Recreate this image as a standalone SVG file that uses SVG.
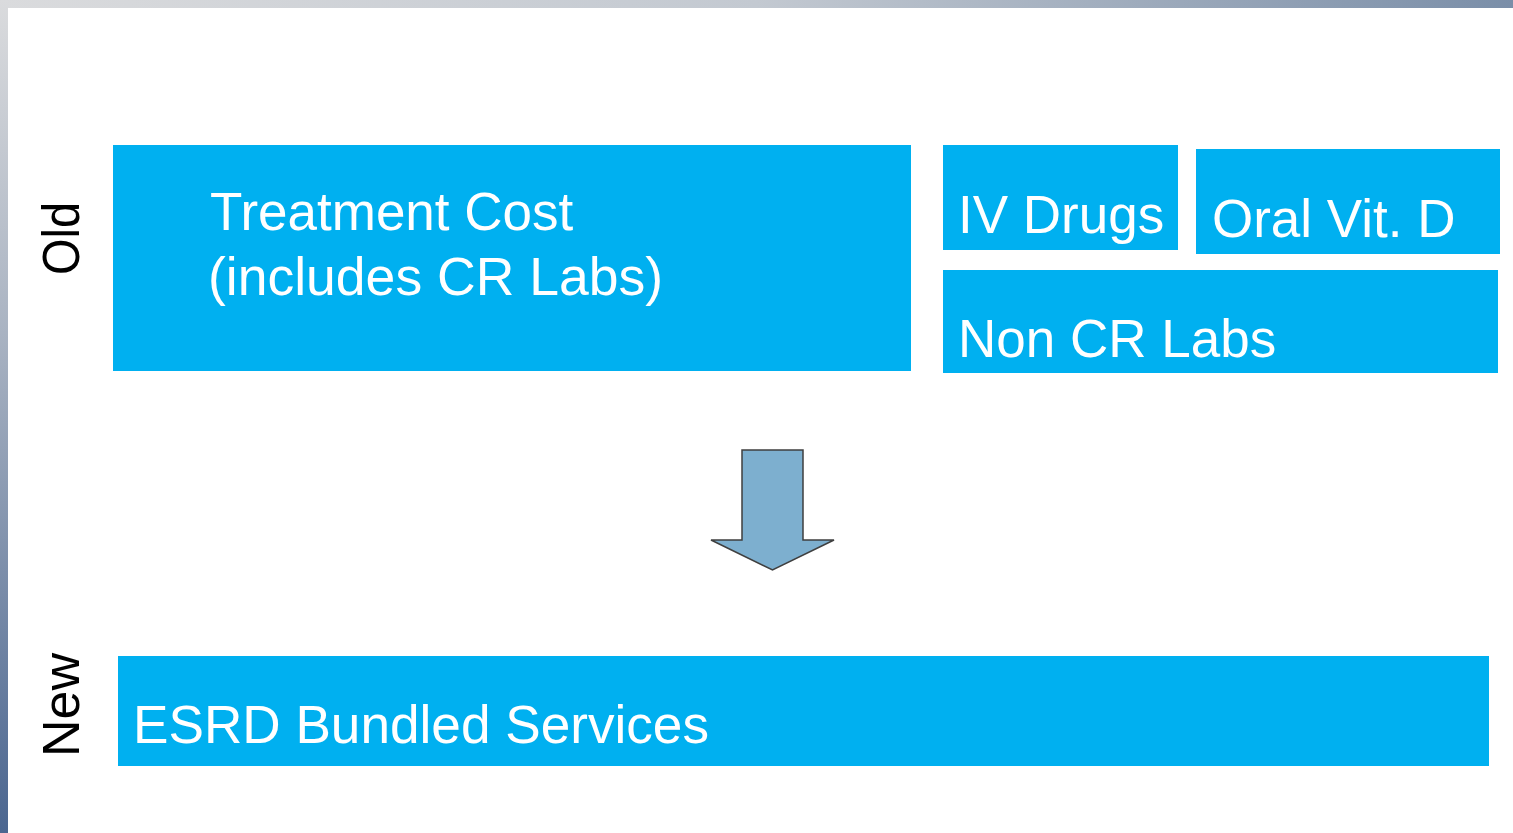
<svg xmlns="http://www.w3.org/2000/svg" width="1513" height="833" viewBox="0 0 1513 833">
<defs>
<linearGradient id="topg" x1="0" y1="0" x2="1" y2="0">
<stop offset="0" stop-color="#dadbdd"/>
<stop offset="0.5" stop-color="#c3c9d1"/>
<stop offset="1" stop-color="#7a8ea8"/>
</linearGradient>
<linearGradient id="leftg" x1="0" y1="0" x2="0" y2="1">
<stop offset="0" stop-color="#dadbdd"/>
<stop offset="0.4" stop-color="#a9b3c2"/>
<stop offset="1" stop-color="#4b6690"/>
</linearGradient>
<style>
.box{fill:#00b0f0;}
.lbl{font-family:"Liberation Sans",Arial,sans-serif;font-size:53px;fill:#ffffff;}
.side{font-family:"Liberation Sans",Arial,sans-serif;font-size:52px;fill:#000000;}
</style>
</defs>
<rect x="0" y="0" width="1513" height="833" fill="#ffffff"/>
<rect x="0" y="0" width="1513" height="8" fill="url(#topg)"/>
<rect x="0" y="0" width="8" height="833" fill="url(#leftg)"/>
<g id="label-old"><text class="side" transform="translate(79,275) rotate(-90)" textLength="73" lengthAdjust="spacingAndGlyphs">Old</text></g>
<g id="label-new"><text class="side" transform="translate(79,757) rotate(-90)">New</text></g>
<g id="treatment">
<rect class="box" x="113" y="145" width="798" height="226"/>
<text class="lbl" x="210" y="230">Treatment Cost</text>
<text class="lbl" x="208" y="295" textLength="455" lengthAdjust="spacingAndGlyphs">(includes CR Labs)</text>
</g>
<g id="ivdrugs">
<rect class="box" x="943" y="145" width="235" height="105"/>
<text class="lbl" x="958" y="233">IV Drugs</text>
</g>
<g id="oralvitd">
<rect class="box" x="1196" y="149" width="304" height="105"/>
<text class="lbl" x="1212" y="237">Oral Vit. D</text>
</g>
<g id="noncrlabs">
<rect class="box" x="943" y="270" width="555" height="103"/>
<text class="lbl" x="958" y="357">Non CR Labs</text>
</g>
<g id="esrd">
<rect class="box" x="118" y="656" width="1371" height="110"/>
<text class="lbl" x="133" y="743" textLength="576" lengthAdjust="spacingAndGlyphs">ESRD Bundled Services</text>
</g>
<g id="connectors">
<path d="M742,450 L803,450 L803,540 L834,540 L772.5,570 L711,540 L742,540 Z" fill="#7dafcf" stroke="#3f3f3f" stroke-width="1.5" stroke-linejoin="miter"/>
</g>
</svg>
